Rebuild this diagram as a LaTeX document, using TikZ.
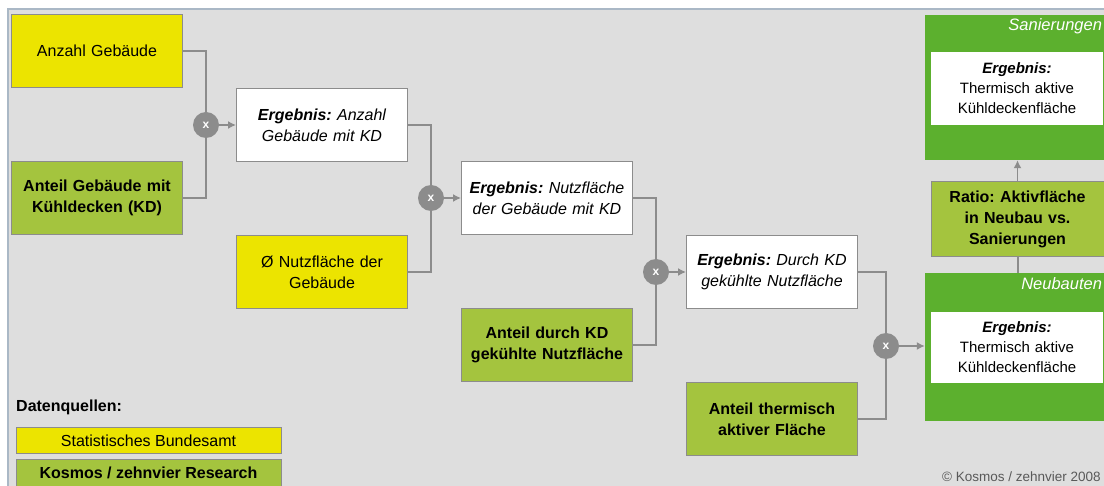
\documentclass[tikz,border=0pt]{standalone}
\usepackage{fontspec}
\setmainfont{Liberation Sans}
\usepackage{tikz}
\usetikzlibrary{arrows.meta, positioning}
\frenchspacing

\definecolor{quellgelb}{RGB}{236,228,0}
\definecolor{anteilgruen}{RGB}{164,196,62}
\definecolor{panelgruen}{RGB}{92,176,46}
\definecolor{hintergrund}{RGB}{222,222,222}
\definecolor{linie}{RGB}{140,140,140}
\definecolor{rahmenblau}{RGB}{170,184,198}

\begin{document}
\begin{tikzpicture}[
            x=1pt, y=-1pt,
            on grid,
            block/.style={rectangle, draw=linie, line width=1pt,
                minimum width=171pt, minimum height=73pt,
                text width=160pt, align=center, inner sep=0pt,
                font=\fontsize{16}{21}\selectfont
            },
            quelle/.style={block, fill=quellgelb},
            anteil/.style={block, fill=anteilgruen, font=\fontsize{16}{21}\selectfont\bfseries},
            ergebnis/.style={block, fill=white, font=\fontsize{16}{21}\selectfont\itshape},
            innen/.style={block, draw=none, fill=white, minimum width=172pt, font=\fontsize{15}{20}\selectfont},
            panel/.style={rectangle, fill=panelgruen, minimum width=181pt, inner sep=0pt},
            panellabel/.style={text=white, inner sep=0pt, font=\fontsize{16.5}{17}\selectfont\itshape},
            op/.style={circle, fill=linie, minimum size=26pt, inner sep=0pt,
                text=white, font=\fontsize{12}{12}\selectfont\bfseries},
            legende/.style={rectangle, draw=linie, line width=1pt, minimum width=265pt,
                inner sep=0pt, font=\fontsize{16}{16}\selectfont},
            verbindung/.style={draw=linie, line width=2pt},
            pfeil/.style={draw=linie, line width=1.5pt, -{Latex[length=8pt, width=8pt]}}
        ]
            \useasboundingbox (0,0) rectangle (1104,486);
            % Hintergrund
            \fill[hintergrund] (8,9) rectangle (1104,486);
            \draw[rahmenblau, line width=1.5pt] (1104,9) -- (8,9) -- (8,486);

            % Eingangsgrößen und Zwischenergebnisse
            \node [quelle] (anzahl) at (97,51) {Anzahl Gebäude};
            \node [anteil, below=147pt of anzahl] (anteilkd) {Anteil Gebäude mit\\Kühldecken (KD)};
            \node [ergebnis, below right=74pt and 225pt of anzahl] (erg1) {\textbf{Ergebnis:} Anzahl\\Gebäude mit KD};
            \node [quelle, below=147pt of erg1] (nutzfl) {Ø Nutzfläche der\\Gebäude};
            \node [ergebnis, below right=73pt and 225pt of erg1] (erg2) {\textbf{Ergebnis:} Nutzfläche\\der Gebäude mit KD};
            \node [anteil, below=147pt of erg2] (anteildurch) {Anteil durch KD\\gekühlte Nutzfläche};
            \node [ergebnis, below right=74pt and 225pt of erg2] (erg3) {\textbf{Ergebnis:} Durch KD\\gekühlte Nutzfläche};
            \node [anteil, below=147pt of erg3] (anteiltherm) {Anteil thermisch\\aktiver Fläche};

            % Multiplikationen
            \node [op, left=116pt of erg1] (op1) {x};
            \node [op, left=116pt of erg2] (op2) {x};
            \node [op, left=116pt of erg3] (op3) {x};
            \node [op, below right=74pt and 114pt of erg3] (op4) {x};

            % Ergebnisse rechts
            \node [panel, minimum height=145pt] (sanpanel) at (1015.5,87.5) {};
            \node [panellabel, anchor=north east] (sanlabel) at ([xshift=-4pt, yshift=-4pt]sanpanel.north east) {Sanierungen};
            \node [innen] (sanerg) at (1017,88.5) {\textbf{\textit{Ergebnis:}}\\Thermisch aktive\\Kühldeckenfläche};
            \node [anteil, minimum width=173pt, minimum height=75pt] (ratio) at (1017.5,219.5) {Ratio: Aktivfläche\\in Neubau vs.\\Sanierungen};
            \node [panel, minimum height=148pt] (neupanel) at (1015.5,347) {};
            \node [panellabel, anchor=north east] (neulabel) at ([xshift=-4pt, yshift=-5pt]neupanel.north east) {Neubauten};
            \node [innen, minimum height=71pt] (neuerg) at (1017,347.5) {\textbf{\textit{Ergebnis:}}\\Thermisch aktive\\Kühldeckenfläche};

            % Verbindungen
            \path [verbindung] (anzahl.east) -| (op1);
            \path [verbindung] (anteilkd.east) -| (op1);
            \path [pfeil] (op1) -- (erg1);
            \path [verbindung] (erg1.east) -| (op2);
            \path [verbindung] (nutzfl.east) -| (op2);
            \path [pfeil] (op2) -- (erg2);
            \path [verbindung] (erg2.east) -| (op3);
            \path [verbindung] (anteildurch.east) -| (op3);
            \path [pfeil] (op3) -- (erg3);
            \path [verbindung] (erg3.east) -| (op4);
            \path [verbindung] (anteiltherm.east) -| (op4);
            \path [pfeil] (op4) -- (op4 -| neupanel.west);
            \path [verbindung] (ratio.south) -- (ratio.south |- neupanel.north);
            \path [pfeil] (ratio.north) -- (ratio.north |- sanpanel.south);

            % Datenquellen
            \node [anchor=west, inner sep=0pt, font=\fontsize{16}{16}\selectfont\bfseries] (datenquellen) at (16,407) {Datenquellen:};
            \node [legende, fill=quellgelb, minimum height=26pt] (legstat) at (148.5,441) {Statistisches Bundesamt};
            \node [legende, fill=anteilgruen, minimum height=28pt, font=\fontsize{16}{16}\selectfont\bfseries] (legkosmos) at (148.5,473) {Kosmos / zehnvier Research};
            \node [anchor=west, inner sep=0pt, text=black!65, font=\fontsize{13.5}{14}\selectfont] (copyright) at (942,477) {© Kosmos / zehnvier 2008};
        \end{tikzpicture}
\end{document}
